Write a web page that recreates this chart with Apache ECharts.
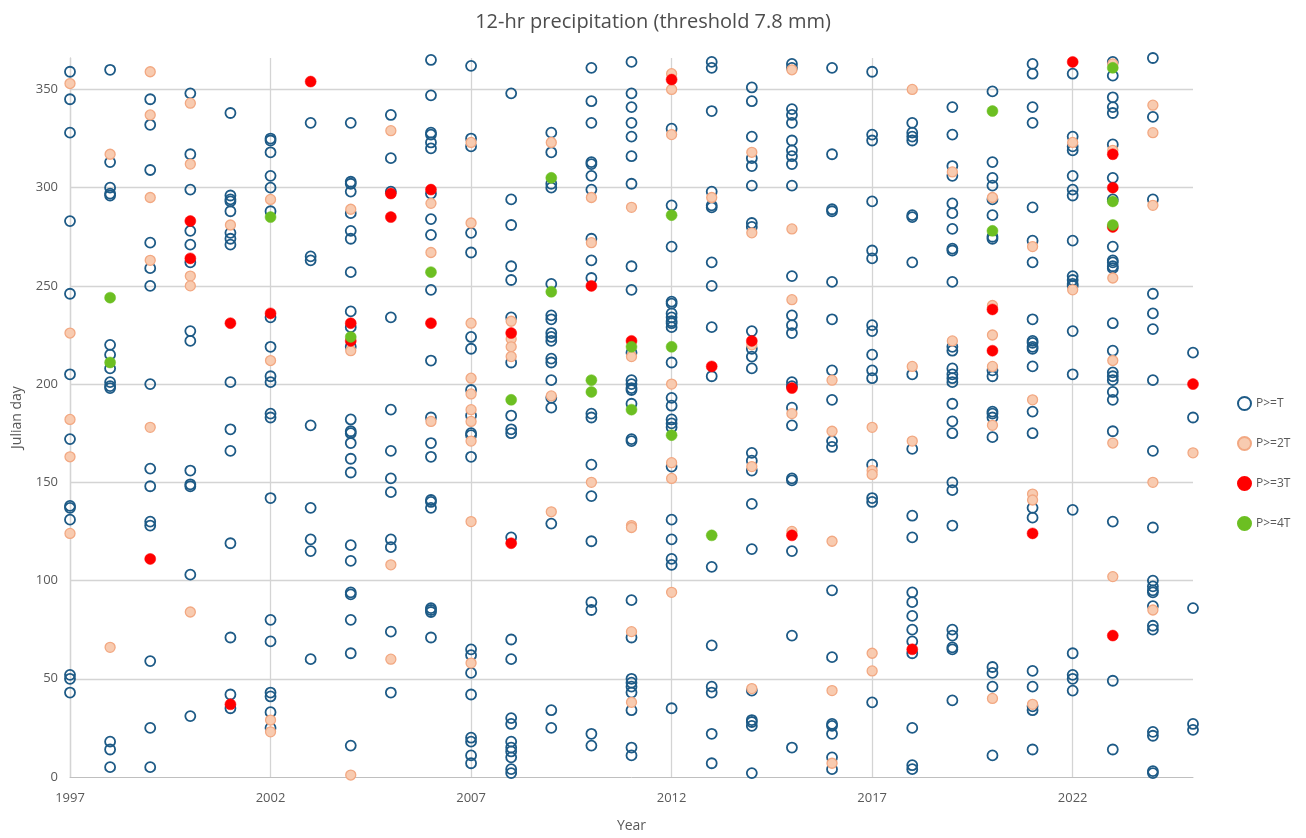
<!DOCTYPE html>
<html>
<head>
<meta charset="utf-8">
<script src="https://cdn.jsdelivr.net/npm/echarts@6/dist/echarts.min.js"></script>
<style>
html,body{margin:0;padding:0;background:#fff;}
#chart{width:1306px;height:838px;}
</style>
</head>
<body>
<div id="chart"></div>
<script>
const years = [1997,1998,1999,2000,2001,2002,2003,2004,2005,2006,2007,2008,2009,2010,2011,2012,2013,2014,2015,2016,2017,2018,2019,2020,2021,2022,2023,2024,2025];
const xTickYears = [1997,2002,2007,2012,2017,2022];
const yTickDays = [0,50,100,150,200,250,300,350];

// P>=T (one list of Julian days per year)
const daysT = [
  [359,345,328,283,246,205,172,138,137,131,52,50,43],
  [360,313,300,297,296,220,215,208,201,199,198,18,14,5],
  [345,332,309,272,259,250,200,157,148,130,128,59,25,5],
  [348,317,299,278,271,262,227,222,156,149,148,103,31],
  [338,296,294,293,288,277,274,271,201,177,166,119,71,42,35],
  [325,324,318,306,300,288,234,219,204,201,185,183,142,80,69,43,41,33,25],
  [333,265,263,179,137,121,115,60],
  [333,303,302,298,287,278,274,257,237,229,219,182,176,175,170,162,155,118,110,94,93,80,63,16],
  [337,315,298,234,187,166,152,145,121,117,74,43],
  [365,347,328,327,323,320,297,284,276,248,212,183,170,163,141,140,137,86,85,84,71],
  [362,325,321,277,267,224,218,197,184,175,174,163,65,62,53,42,20,18,11,7],
  [348,294,281,260,253,234,211,184,177,175,122,70,60,30,27,18,15,13,10,4,2],
  [328,318,302,300,251,235,233,226,224,222,213,211,202,193,188,129,34,25],
  [361,344,333,313,312,306,299,274,263,254,185,183,159,143,120,89,85,22,16],
  [364,348,341,333,326,316,302,260,248,216,202,200,198,197,190,172,171,90,71,50,48,46,43,34,15,11],
  [330,291,270,242,241,236,234,232,231,229,211,193,189,182,180,178,158,131,121,111,108,35],
  [364,361,339,298,291,290,262,250,229,204,107,67,46,43,22,7],
  [351,344,326,315,311,301,282,280,227,218,214,208,165,161,156,139,116,44,29,28,26,2],
  [363,361,340,337,333,324,319,316,312,301,255,235,230,226,201,199,188,179,152,151,115,72,15],
  [361,317,289,288,252,233,207,192,171,168,95,61,27,26,22,10,4],
  [359,327,324,293,268,264,230,227,215,207,203,159,142,140,38],
  [333,328,326,324,286,285,262,205,167,133,122,94,89,82,75,69,63,25,6,4],
  [341,327,311,306,292,287,279,269,268,252,219,217,208,205,203,201,190,181,175,150,146,128,75,72,66,65,39],
  [349,313,305,301,294,286,275,274,207,204,186,185,183,173,56,53,46,11],
  [363,358,341,333,290,273,262,233,222,221,219,218,209,186,175,137,132,54,46,36,34,14],
  [358,326,321,319,306,299,296,273,255,253,251,250,227,205,136,63,52,50,44],
  [364,357,346,341,338,322,305,294,270,263,262,260,259,231,217,206,204,202,196,192,176,130,49,14],
  [366,336,294,246,236,228,202,166,127,100,97,95,94,87,77,75,23,21,3,2],
  [216,183,86,27,24]
];

// P>=2T
const days2T = [
  [353,226,182,163,124],
  [317,66],
  [359,337,295,263,178],
  [343,312,255,250,84],
  [281],
  [294,212,29,23],
  [],
  [289,217,1],
  [329,108,60],
  [292,267,181],
  [323,282,231,203,195,187,181,171,130,58],
  [232,223,219,214],
  [323,194,135],
  [295,272,150],
  [290,214,128,127,74,38],
  [358,350,327,200,160,152,94],
  [295],
  [318,277,220,158,45],
  [360,279,243,185,125],
  [202,176,120,44,7],
  [178,156,154,63,54],
  [350,209,171],
  [308,222],
  [295,240,225,209,179,40],
  [270,192,144,141,37],
  [323,248],
  [363,319,254,212,170,102],
  [342,328,291,150,85],
  [165]
];

// P>=3T
const days3T = [
  [],[],[111],[283,264],[231,37],[236],[354],[231,222],[297,285],[299,231],
  [],[226,119],[],[250],[222],[355],[209],[222],[198,123],[],
  [],[65],[],[238,217],[124],[364],[317,300,280,72],[],[200]
];

// P>=4T
const days4T = [
  [],[244,211],[],[],[],[285],[],[224],[],[257],
  [],[192],[305,247],[202,196],[219,187],[286,219,174],[123],[],[],[],
  [],[],[],[339,278],[],[],[361,293,281],[],[]
];

function toPairs(lists){
  const out=[];
  lists.forEach((days,i)=>days.forEach(d=>out.push([years[i], d])));
  return out;
}

const textColor = '#595959';
const fontFam = '"Open Sans", "Noto Sans", sans-serif';

const chart = echarts.init(document.getElementById('chart'), null, {renderer:'canvas'});
chart.setOption({
  animation:false,
  backgroundColor:'#ffffff',
  title:{
    text:'12-hr precipitation (threshold 7.8 mm)',
    left:'center', top:7,
    textStyle:{fontFamily:fontFam, fontSize:20, fontWeight:'normal', color:'#4d4d4d'}
  },
  grid:{left:70, right:113, top:58, bottom:60, containLabel:false},
  legend:{
    orient:'vertical', left:1232, top:391, itemGap:25,
    itemWidth:13, itemHeight:13,
    data:['P>=T','P>=2T','P>=3T','P>=4T'],
    textStyle:{fontFamily:fontFam, fontSize:12, color:textColor}
  },
  xAxis:{
    type:'value', min:1997, max:2025, interval:5,
    name:'Year', nameLocation:'middle', nameGap:42,
    nameTextStyle:{fontFamily:fontFam, fontSize:14, color:textColor},
    axisLine:{show:true, lineStyle:{color:'#bfbfbf', width:1}},
    axisTick:{show:false},
    splitLine:{show:false},
    axisLabel:{
      fontFamily:fontFam, fontSize:13, color:textColor, margin:15,
      showMaxLabel:false,
      formatter:v => xTickYears.includes(v) ? String(v) : ''
    }
  },
  yAxis:{
    type:'value', min:0, max:366, interval:50,
    name:'Julian day', nameLocation:'middle', nameGap:46, nameRotate:90,
    nameTextStyle:{fontFamily:fontFam, fontSize:14, color:textColor},
    axisLine:{show:true, lineStyle:{color:'#cfcfcf', width:1.3}},
    axisTick:{show:false},
    splitLine:{show:false},
    axisLabel:{
      fontFamily:fontFam, fontSize:13, color:textColor, margin:12,
      showMaxLabel:false,
      formatter:v => yTickDays.includes(v) ? String(v) : ''
    }
  },
  series:[
    {
      name:'grid', type:'scatter', data:[], silent:true, z:1,
      markLine:{
        silent:true, symbol:'none', z:1, animation:false,
        label:{show:false},
        lineStyle:{color:'#d4d4d4', type:'solid', width:1.3},
        data: yTickDays.filter(d=>d>0).map(d=>({yAxis:d}))
              .concat(xTickYears.map(y=>({xAxis:y})))
      }
    },
    {
      name:'P>=T', type:'scatter', z:2, symbol:'circle', symbolSize:10,
      data: toPairs(daysT),
      itemStyle:{color:'rgba(255,255,255,0)', borderColor:'#1d5a86', borderWidth:1.8, opacity:1}
    },
    {
      name:'P>=2T', type:'scatter', z:3, symbol:'circle', symbolSize:10,
      data: toPairs(days2T),
      itemStyle:{color:'#f8cbb0', borderColor:'#f2a882', borderWidth:1.3, opacity:1}
    },
    {
      name:'P>=3T', type:'scatter', z:4, symbol:'circle', symbolSize:11,
      data: toPairs(days3T),
      itemStyle:{color:'#ff0000', borderColor:'#ff0000', borderWidth:0.5, opacity:1}
    },
    {
      name:'P>=4T', type:'scatter', z:5, symbol:'circle', symbolSize:11,
      data: toPairs(days4T),
      itemStyle:{color:'#6cbf22', borderColor:'#6cbf22', borderWidth:0.5, opacity:1}
    }
  ]
});
</script>
</body>
</html>
